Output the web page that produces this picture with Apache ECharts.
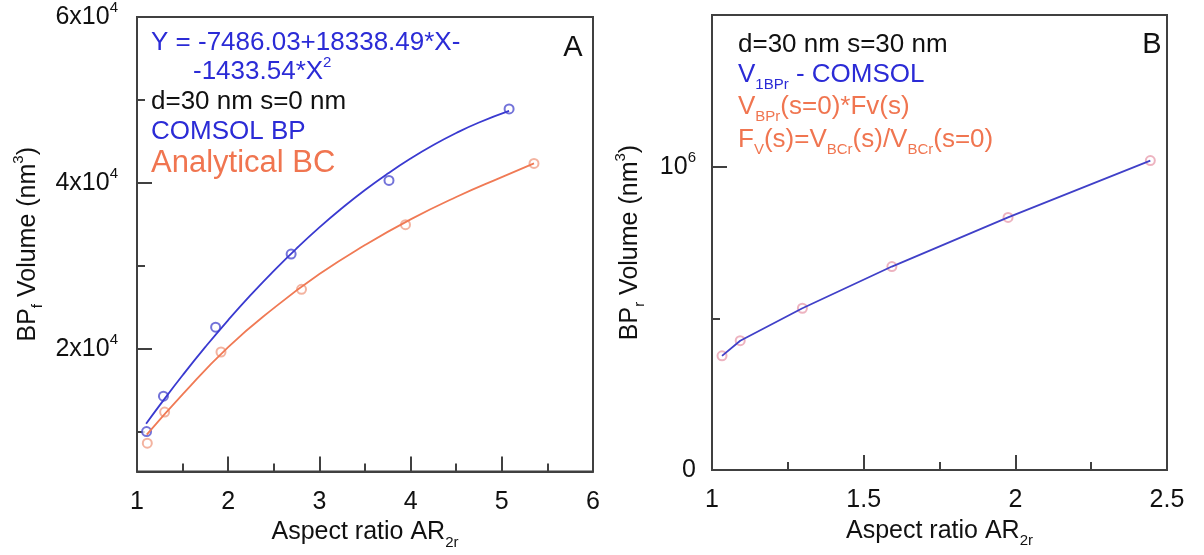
<!DOCTYPE html>
<html><head><meta charset="utf-8">
<script src="https://cdn.jsdelivr.net/npm/echarts@6/dist/echarts.min.js"></script>
<style>html,body{margin:0;padding:0;background:#fff}#c{width:1204px;height:555px}</style>
</head><body><div id="c"></div>
<script>
// ---------- Panel A data ----------
const xA_comsol = [1.105, 1.29, 1.862, 2.69, 3.763, 5.08];
const yA_comsol = [10010, 14280, 22600, 31420, 40300, 48920];
const xA_analytic = [1.113, 1.303, 1.921, 2.804, 3.944, 5.353];
const yA_analytic = [8610, 12360, 19610, 27160, 34960, 42350];
// fitted curves as drawn
const xA_fitComsol = [1.1, 1.25, 1.5, 1.75, 2, 2.25, 2.5, 2.75, 3, 3.25, 3.5, 3.75, 4, 4.25, 4.5, 4.75, 5.08];
const yA_fitComsol = [10950, 13200, 16800, 20220, 23460, 26520, 29400, 32100, 34630, 36970, 39140, 41120, 42930, 44560, 46010, 47280, 48680];
const xA_fitAnalytic = [1.107, 1.5, 2, 2.5, 3, 3.5, 4, 4.5, 5, 5.353];
const yA_fitAnalytic = [9640, 14500, 20200, 24900, 29000, 32500, 35600, 38300, 40700, 42350];
const yA_majorTicks = [20000, 40000, 60000];
const yA_minorTicks = [10000, 30000, 50000];
const yA_tickLabels = ['2x10^4', '4x10^4', '6x10^4'];

// ---------- Panel B data ----------
const xB = [1.033, 1.093, 1.298, 1.593, 1.976, 2.445];
const yB = [376300, 426300, 533200, 670700, 832600, 1020000];
const yB_majorTicks = [1000000];
const yB_minorTicks = [500000];
const yB_labelValues = [0, 1000000];
const yB_tickLabels = ['0', '10^6'];

const FF = "'Liberation Sans', Arial, Helvetica, sans-serif";
const AX = '#404040';
const BLUE_T = '#2b2bd6', ORANGE_T = '#f07550';
const zip = (a, b) => a.map((v, i) => [v, b[i]]);

function supLabel(s) {
  const p = s.split('^');
  return p.length > 1 ? '{n|' + p[0] + '}{sup|' + p[1] + '}' : '{n|' + p[0] + '}';
}
const axisRich = {
  n: {fontSize: 25, lineHeight: 30, fontFamily: FF, color: '#111'},
  sup: {fontSize: 15, height: 12, verticalAlign: 'top', fontFamily: FF, color: '#111'},
  sub: {fontSize: 15, height: 10, verticalAlign: 'bottom', fontFamily: FF, color: '#111'}
};
const axisLine = {show: true, lineStyle: {color: AX, width: 2}};

function xAxisDef(gi, min, max, interval) {
  return {
    type: 'value', gridIndex: gi, min, max, interval,
    axisLine, splitLine: {show: false},
    axisTick: {inside: true, length: 15, lineStyle: {color: AX, width: 2}},
    minorTick: {show: true, splitNumber: 2, length: 8, lineStyle: {color: AX, width: 2}},
    axisLabel: {margin: 18, fontSize: 25, fontFamily: FF, color: '#111', showMinLabel: true, showMaxLabel: true},
    name: '{n|Aspect ratio AR}{sub|2r}', nameLocation: 'middle', nameGap: 46,
    nameTextStyle: {rich: axisRich}
  };
}

const chart = echarts.init(document.getElementById('c'));
chart.setOption({
  animation: false,
  backgroundColor: '#fff',
  grid: [
    {left: 137, top: 17, width: 456, height: 455, show: true, borderColor: AX, borderWidth: 2},
    {left: 712, top: 15, width: 455, height: 455, show: true, borderColor: AX, borderWidth: 2}
  ],
  xAxis: [xAxisDef(0, 1, 6, 1), xAxisDef(1, 1, 2.5, 0.5)],
  yAxis: [
    {type: 'value', gridIndex: 0, position: 'left', min: 5200, max: 60000, axisLine, splitLine: {show: false},
     axisTick: {inside: true, length: 15, customValues: yA_majorTicks, lineStyle: {color: AX, width: 2}},
     axisLabel: {margin: 19, customValues: yA_majorTicks, rich: axisRich,
       formatter: v => supLabel(yA_tickLabels[yA_majorTicks.indexOf(v)] || '')},
     name: '{n|BP}{sub|f}{n| Volume (nm}{sup|3}{n|)}', nameLocation: 'middle', nameGap: 94,
     nameTextStyle: {rich: axisRich}},
    {type: 'value', gridIndex: 0, position: 'left', offset: 0, min: 5200, max: 60000, axisLine: {show: false}, splitLine: {show: false},
     axisTick: {inside: true, length: 8, customValues: yA_minorTicks, lineStyle: {color: AX, width: 2}},
     axisLabel: {show: false}},
    {type: 'value', gridIndex: 1, position: 'left', min: 0, max: 1500000, axisLine, splitLine: {show: false},
     axisTick: {inside: true, length: 15, customValues: yB_majorTicks, lineStyle: {color: AX, width: 2}},
     axisLabel: {margin: 16, customValues: yB_labelValues, rich: axisRich,
       formatter: v => supLabel(yB_tickLabels[yB_labelValues.indexOf(v)] || '')},
     name: '{n|BP}{sub|r}{n| Volume (nm}{sup|3}{n|)}', nameLocation: 'middle', nameGap: 67,
     nameTextStyle: {rich: axisRich}},
    {type: 'value', gridIndex: 1, position: 'left', offset: 0, min: 0, max: 1500000, axisLine: {show: false}, splitLine: {show: false},
     axisTick: {inside: true, length: 8, customValues: yB_minorTicks, lineStyle: {color: AX, width: 2}},
     axisLabel: {show: false}}
  ],
  series: [
    {type: 'line', xAxisIndex: 0, yAxisIndex: 0, data: zip(xA_fitComsol, yA_fitComsol), smooth: true,
     showSymbol: false, lineStyle: {color: '#3a3ad0', width: 1.8}},
    {type: 'line', xAxisIndex: 0, yAxisIndex: 0, data: zip(xA_fitAnalytic, yA_fitAnalytic), smooth: true,
     showSymbol: false, lineStyle: {color: '#f07a55', width: 1.8}},
    {type: 'scatter', xAxisIndex: 0, yAxisIndex: 0, data: zip(xA_comsol, yA_comsol), symbol: 'emptyCircle',
     symbolSize: 9, itemStyle: {color: '#5050d0', borderWidth: 1.2}},
    {type: 'scatter', xAxisIndex: 0, yAxisIndex: 0, data: zip(xA_analytic, yA_analytic), symbol: 'emptyCircle',
     symbolSize: 9, itemStyle: {color: '#f0a088', borderWidth: 1.2}},
    {type: 'scatter', xAxisIndex: 1, yAxisIndex: 2, data: zip(xB, yB), symbol: 'emptyCircle', z: 1,
     symbolSize: 9, itemStyle: {color: '#e8a0b0', borderWidth: 1.2}},
    {type: 'line', xAxisIndex: 1, yAxisIndex: 2, data: zip(xB, yB), smooth: false, z: 3,
     showSymbol: false, lineStyle: {color: '#4040c8', width: 1.8}}
  ],
  graphic: (function () {
    const mk = (x, y, text, color, size, align) => ({
      type: 'text', x, y, z: 10,
      style: {
        text, fill: color, fontSize: size, fontFamily: FF, align: align || 'left', verticalAlign: 'middle',
        lineHeight: 30,
        rich: {
          n: {fill: color, fontSize: size, fontFamily: FF, lineHeight: 30},
          sub: {fill: color, fontSize: 15, fontFamily: FF, height: 10, verticalAlign: 'bottom'},
          sup: {fill: color, fontSize: 15, fontFamily: FF, height: 12, verticalAlign: 'top'}
        }
      }
    });
    return [
      mk(151, 43, '{n|Y = -7486.03+18338.49*X-}', BLUE_T, 26),
      mk(193, 72, '{n|-1433.54*X}{sup|2}', BLUE_T, 26),
      mk(151, 102, '{n|d=30 nm s=0 nm}', '#111', 26),
      mk(151, 132, '{n|COMSOL BP}', BLUE_T, 26),
      mk(151, 163, '{n|Analytical BC}', ORANGE_T, 31),
      mk(573, 48, '{n|A}', '#111', 29, 'center'),
      mk(738, 45, '{n|d=30 nm s=30 nm}', '#111', 26),
      mk(738, 75, '{n|V}{sub|1BPr}{n| - COMSOL}', BLUE_T, 26),
      mk(738, 107, '{n|V}{sub|BPr}{n|(s=0)*Fv(s)}', ORANGE_T, 26),
      mk(738, 140, '{n|F}{sub|V}{n|(s)=V}{sub|BCr}{n|(s)/V}{sub|BCr}{n|(s=0)}', ORANGE_T, 26),
      mk(1152, 45, '{n|B}', '#111', 29, 'center')
    ];
  })()
});
</script></body></html>
